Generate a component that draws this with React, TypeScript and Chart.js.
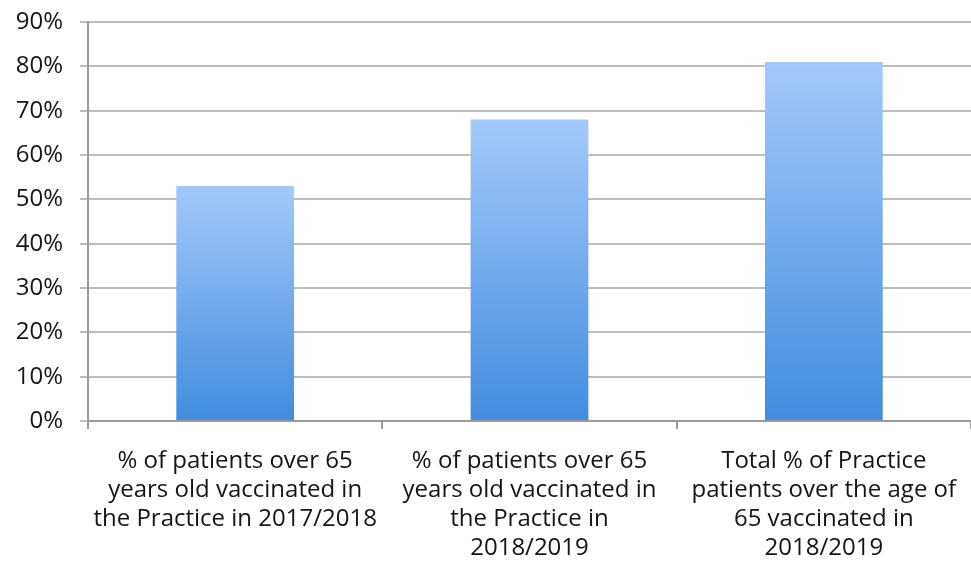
import React, { useEffect, useRef } from "react";
import { Chart, registerables } from "chart.js";

Chart.register(...registerables);

const categories: string[][] = [
  ["% of patients over 65", "years old vaccinated in", "the Practice in 2017/2018"],
  ["% of patients over 65", "years old vaccinated in", "the Practice in", "2018/2019"],
  ["Total % of Practice", "patients over the age of", "65 vaccinated in", "2018/2019"],
];
const values: number[] = [53, 68, 81];
const yTicks: number[] = [0, 10, 20, 30, 40, 50, 60, 70, 80, 90];

const FONT = "'Open Sans', 'Noto Sans', sans-serif";

export default function App() {
  const ref = useRef<HTMLCanvasElement | null>(null);
  useEffect(() => {
    document.body.style.margin = "0";
    const canvas = ref.current;
    if (!canvas) return;
    const chart = new Chart(canvas, {
      type: "bar",
      data: {
        labels: categories,
        datasets: [
          {
            data: values,
            barPercentage: 0.8,
            categoryPercentage: 0.5,
            borderWidth: 0,
            backgroundColor: (ctx: any) => {
              const c = ctx.chart;
              const area = c.chartArea;
              if (!area || ctx.type !== "data") return "#6fa9ec";
              const yScale = c.scales.y;
              const v = ctx.raw as number;
              const top = yScale.getPixelForValue(v);
              const g = c.ctx.createLinearGradient(0, top, 0, area.bottom);
              g.addColorStop(0, "#a3c9fa");
              g.addColorStop(1, "#418cde");
              return g;
            },
          },
        ],
      },
      options: {
        animation: false,
        responsive: false,
        maintainAspectRatio: false,
        layout: { padding: { top: 22, right: 0, left: 0, bottom: 0 } },
        plugins: { legend: { display: false }, tooltip: { enabled: false } },
        scales: {
          x: {
            offset: true,
            border: { display: true, color: "#9a9a9a", width: 2 },
            grid: {
              offset: true,
              drawOnChartArea: false,
              drawTicks: true,
              tickLength: 8,
              color: "#9a9a9a",
              lineWidth: 2,
            },
            ticks: {
              color: "#151515",
              font: { family: FONT, size: 24, lineHeight: 1.21 },
              padding: 18,
              maxRotation: 0,
              minRotation: 0,
              autoSkip: false,
            },
            afterFit: (s: any) => {
              s.height = 151;
              s.paddingLeft = 0;
              s.paddingRight = 0;
            },
          },
          y: {
            min: 0,
            max: 90,
            border: { display: true, color: "#9a9a9a", width: 2 },
            grid: {
              color: "#bdbdbd",
              lineWidth: 2,
              tickLength: 8,
              drawTicks: true,
            },
            afterBuildTicks: (s: any) => {
              s.ticks = yTicks.map((v) => ({ value: v }));
            },
            ticks: {
              color: "#151515",
              font: { family: FONT, size: 24 },
              padding: 17,
              callback: (v: any) => `${v}%`,
            },
            afterFit: (s: any) => {
              s.width = 88;
              s.paddingTop = 0;
              s.paddingBottom = 0;
            },
          },
        },
      },
    });
    return () => chart.destroy();
  }, []);
  return (
    <div style={{ position: "absolute", left: 0, top: 0, width: 971, height: 572, background: "#fff" }}>
      <canvas ref={ref} width={971} height={572} style={{ width: 971, height: 572 }} />
    </div>
  );
}
